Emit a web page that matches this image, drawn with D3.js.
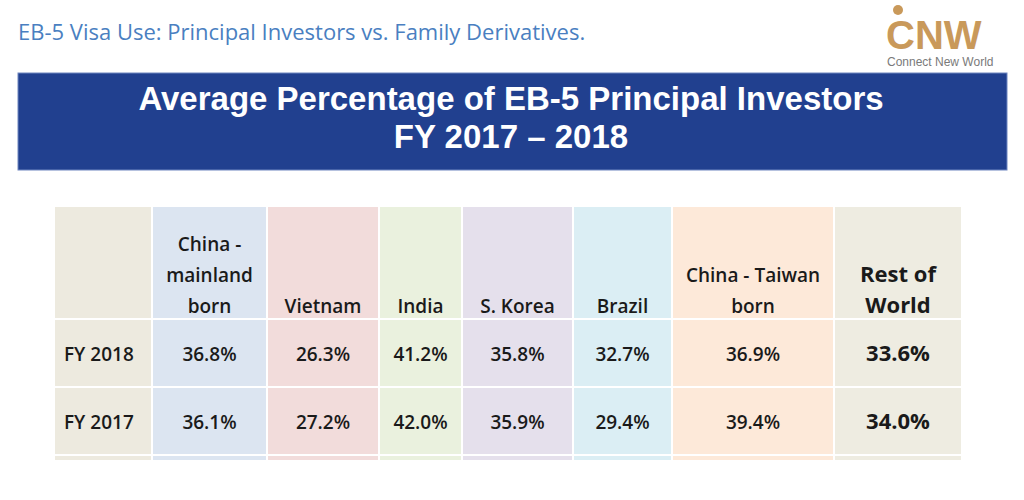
<!DOCTYPE html>
<html><head><meta charset="utf-8">
<script src="https://cdn.jsdelivr.net/npm/d3@7"></script>
<style>body{margin:0;background:#fff}svg{display:block}</style>
</head><body><svg width="1024" height="500"></svg>
<script>
var columns = ["", "China -\nmainland\nborn", "Vietnam", "India", "S. Korea", "Brazil", "China - Taiwan\nborn", "Rest of\nWorld"];
var colEdges = [55, 153, 268, 380, 463, 574, 673, 835, 963];
var colColors = ["#edeadf", "#dce5f1", "#f2dcdb", "#eaf1de", "#e5e0ec", "#dbeef4", "#fde9d9", "#eeece1"];
var rowLabels = ["FY 2018", "FY 2017"];
var fy2018 = ["36.8%", "26.3%", "41.2%", "35.8%", "32.7%", "36.9%", "33.6%"];
var fy2017 = ["36.1%", "27.2%", "42.0%", "35.9%", "29.4%", "39.4%", "34.0%"];
var rows = [fy2018, fy2017];

var svg = d3.select("svg");
var cellFont = "'Open Sans'";

svg.append("text").attr("x", 18).attr("y", 40)
   .attr("font-family", "Open Sans").attr("font-size", 22).attr("fill", "#4a7fc1")
   .text("EB-5 Visa Use: Principal Investors vs. Family Derivatives.");

// logo
var logo = svg.append("g").attr("font-family", "Liberation Sans");
logo.append("circle").attr("cx", 898).attr("cy", 10).attr("r", 5).attr("fill", "#c9995a");
logo.append("text").attr("x", 886).attr("y", 49).attr("font-size", 40).attr("font-weight", "bold")
    .attr("fill", "#c9995a").text("CNW");
logo.append("text").attr("x", 887).attr("y", 66).attr("font-size", 12).attr("fill", "#7a7a7a")
    .text("Connect New World");

// banner
svg.append("rect").attr("x", 18).attr("y", 73).attr("width", 989).attr("height", 97)
   .attr("fill", "#21408f").attr("stroke", "#6f86c0");
var banner = svg.append("text").attr("text-anchor", "middle").attr("fill", "#fff")
   .attr("font-family", "Liberation Sans").attr("font-weight", "bold").attr("font-size", 33);
banner.append("tspan").attr("x", 511).attr("y", 110).text("Average Percentage of EB-5 Principal Investors");
banner.append("tspan").attr("x", 511).attr("y", 148).text("FY 2017 \u2013 2018");

// table
var y = d3.scaleOrdinal().domain(["head", "r0", "r1", "tail"]).range([207, 320, 388, 456]);
var rowBottom = { head: 320, r0: 388, r1: 456, tail: 462 };

var cols = svg.append("g").selectAll("g").data(columns).join("g");
cols.each(function(c, i) {
  var g = d3.select(this);
  ["head", "r0", "r1", "tail"].forEach(function(r) {
    g.append("rect").attr("x", colEdges[i]).attr("y", y(r))
     .attr("width", colEdges[i + 1] - colEdges[i] - 2)
     .attr("height", rowBottom[r] - y(r) - 2)
     .attr("fill", colColors[i]);
  });
  var cx = (colEdges[i] + colEdges[i + 1]) / 2 - 1;
  var lines = c.split("\n");
  var bold = i === 7;
  g.selectAll("text.h").data(lines).join("text").attr("class", "h")
   .attr("x", cx).attr("y", function(d, k) { return 313 - (lines.length - 1 - k) * 31; })
   .attr("text-anchor", "middle").attr("font-family", cellFont)
   .attr("font-weight", bold ? 700 : 600).attr("font-size", bold ? 22 : 19).attr("fill", "#1a1a1a")
   .text(function(d) { return d; });
  rows.forEach(function(vals, r) {
    var t = i === 0 ? rowLabels[r] : vals[i - 1];
    g.append("text").attr("x", i === 0 ? 64 : cx).attr("y", r === 0 ? 361 : 429)
     .attr("text-anchor", i === 0 ? "start" : "middle").attr("font-family", cellFont)
     .attr("font-weight", bold ? 700 : 600).attr("font-size", bold ? 22 : 19).attr("fill", "#1a1a1a")
     .text(t);
  });
});
</script></body></html>
